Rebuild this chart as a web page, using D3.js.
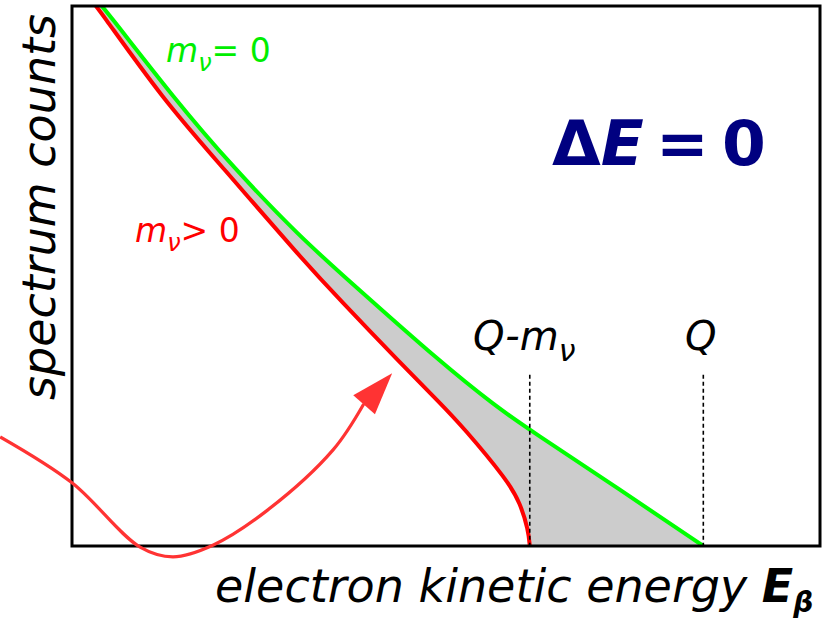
<!DOCTYPE html>
<html>
<head>
<meta charset="utf-8">
<script src="https://cdn.jsdelivr.net/npm/d3@7"></script>
<style>
  body { margin: 0; background: #fff; }
  svg { display: block; }
  text { font-family: "DejaVu Sans", sans-serif; }
</style>
</head>
<body>
<script>
// endpoint energies (arbitrary units, 0..100 across the frame)
var Q = 84.4, Qm = 61.2;

// spectrum: [energy, counts]
var massless = [[3.0, 101.5], [4.1, 100], [13.8, 82.6], [21.5, 70.2], [30.5, 57.2], [37.2, 48.9],
  [49.2, 34.1], [56.8, 25.7], [61.2, 21.5], [73.3, 10.4], [Q, 0]];
var massive = [[2.3, 101.5], [3.3, 100], [12.2, 82.6], [20.1, 70.2], [30.5, 53.5], [35.8, 45.6],
  [43.9, 33.9], [49.2, 26.5], [52.3, 22.0], [58.2, 12.2], [59.9, 8.0], [61.0, 3.0], [Qm, 0]];

// wavy arrow path + head, same units
var arrowPts = [[-9.6, 20.2], [0, 11.7], [9.1, -0.2], [13.5, -2.0], [18.9, 0.2],
  [26.1, 6.6], [34.9, 17.8], [39.0, 26.3]];
var arrowHead = [[42.8, 32.0], [37.6, 27.9], [40.5, 24.4]];

var markers = [Qm, Q];
var markerTop = 31.7;

var W = 823, H = 621;
var svg = d3.select("body").append("svg")
  .attr("width", W).attr("height", H);

var x = d3.scaleLinear().domain([0, 100]).range([72, 820]);
var y = d3.scaleLinear().domain([0, 100]).range([546, 6]);

svg.append("clipPath").attr("id", "frame")
  .append("rect")
  .attr("x", x(0)).attr("y", y(100))
  .attr("width", x(100) - x(0)).attr("height", y(0) - y(100));

var line = d3.line()
  .x(function(d) { return x(d[0]); })
  .y(function(d) { return y(d[1]); })
  .curve(d3.curveBasis);

var plot = svg.append("g").attr("clip-path", "url(#frame)");

// gray gap between the two spectra
plot.append("path")
  .attr("d", line(massless) + "L" + line(massive.slice().reverse()).slice(1) + "Z")
  .attr("fill", "#cccccc")
  .attr("stroke", "#cccccc")
  .attr("stroke-width", 1.5);

plot.append("path")
  .attr("d", line(massive))
  .attr("fill", "none")
  .attr("stroke", "#ff0000")
  .attr("stroke-width", 4);

plot.append("path")
  .attr("d", line(massless))
  .attr("fill", "none")
  .attr("stroke", "#00ff00")
  .attr("stroke-width", 4);

svg.selectAll(".mark")
  .data(markers)
  .enter().append("line")
  .attr("x1", function(d) { return x(d); })
  .attr("x2", function(d) { return x(d); })
  .attr("y1", y(markerTop))
  .attr("y2", y(0))
  .attr("stroke", "#000")
  .attr("stroke-width", 1.6)
  .attr("stroke-dasharray", "4,3");

// frame
svg.append("rect")
  .attr("x", x(0)).attr("y", y(100))
  .attr("width", x(100) - x(0)).attr("height", y(0) - y(100))
  .attr("fill", "none")
  .attr("stroke", "#000")
  .attr("stroke-width", 3);

// arrow
svg.append("path")
  .attr("d", d3.line().x(function(d) { return x(d[0]); }).y(function(d) { return y(d[1]); })
    .curve(d3.curveCatmullRom)(arrowPts))
  .attr("fill", "none")
  .attr("stroke", "#ff3333")
  .attr("stroke-width", 3.2);
svg.append("path")
  .attr("d", d3.line().x(function(d) { return x(d[0]); }).y(function(d) { return y(d[1]); })(arrowHead) + "Z")
  .attr("fill", "#ff3333");

// labels
var t1 = svg.append("text").attr("x", 166).attr("y", 62)
  .attr("fill", "#00ee00").attr("font-size", 33);
t1.append("tspan").attr("font-style", "italic").text("m");
t1.append("tspan").attr("font-style", "italic").attr("font-size", 24).attr("dy", 9).text("ν");
t1.append("tspan").attr("dy", -9).text("= 0");

var t2 = svg.append("text").attr("x", 135).attr("y", 242)
  .attr("fill", "#ff0000").attr("font-size", 33);
t2.append("tspan").attr("font-style", "italic").text("m");
t2.append("tspan").attr("font-style", "italic").attr("font-size", 24).attr("dy", 9).text("ν");
t2.append("tspan").attr("dy", -9).text("> 0");

var t3 = svg.append("text").attr("y", 165)
  .attr("fill", "#000080").attr("font-size", 63).attr("font-weight", "bold");
t3.append("tspan").attr("x", 552).text("Δ");
t3.append("tspan").attr("font-style", "italic").text("E");
t3.append("tspan").attr("x", 656).text("=");
t3.append("tspan").attr("x", 722).text("0");

var t4 = svg.append("text").attr("x", 473).attr("y", 350)
  .attr("fill", "#000").attr("font-size", 40).attr("font-style", "italic");
t4.append("tspan").text("Q-m");
t4.append("tspan").attr("font-size", 30).attr("dy", 11).text("ν");

svg.append("text").attr("x", 685).attr("y", 350)
  .attr("font-size", 40).attr("font-style", "italic").text("Q");

svg.append("text")
  .attr("transform", "translate(55,400) rotate(-90)")
  .attr("font-size", 46).attr("font-style", "italic")
  .text("spectrum counts");

var t5 = svg.append("text").attr("x", 215).attr("y", 602)
  .attr("font-size", 46).attr("font-style", "italic");
t5.append("tspan").text("electron kinetic energy ");
t5.append("tspan").attr("font-weight", "bold").text("E");
t5.append("tspan").attr("font-weight", "bold").attr("font-size", 28).attr("dy", 10).text("β");
</script>
</body>
</html>
